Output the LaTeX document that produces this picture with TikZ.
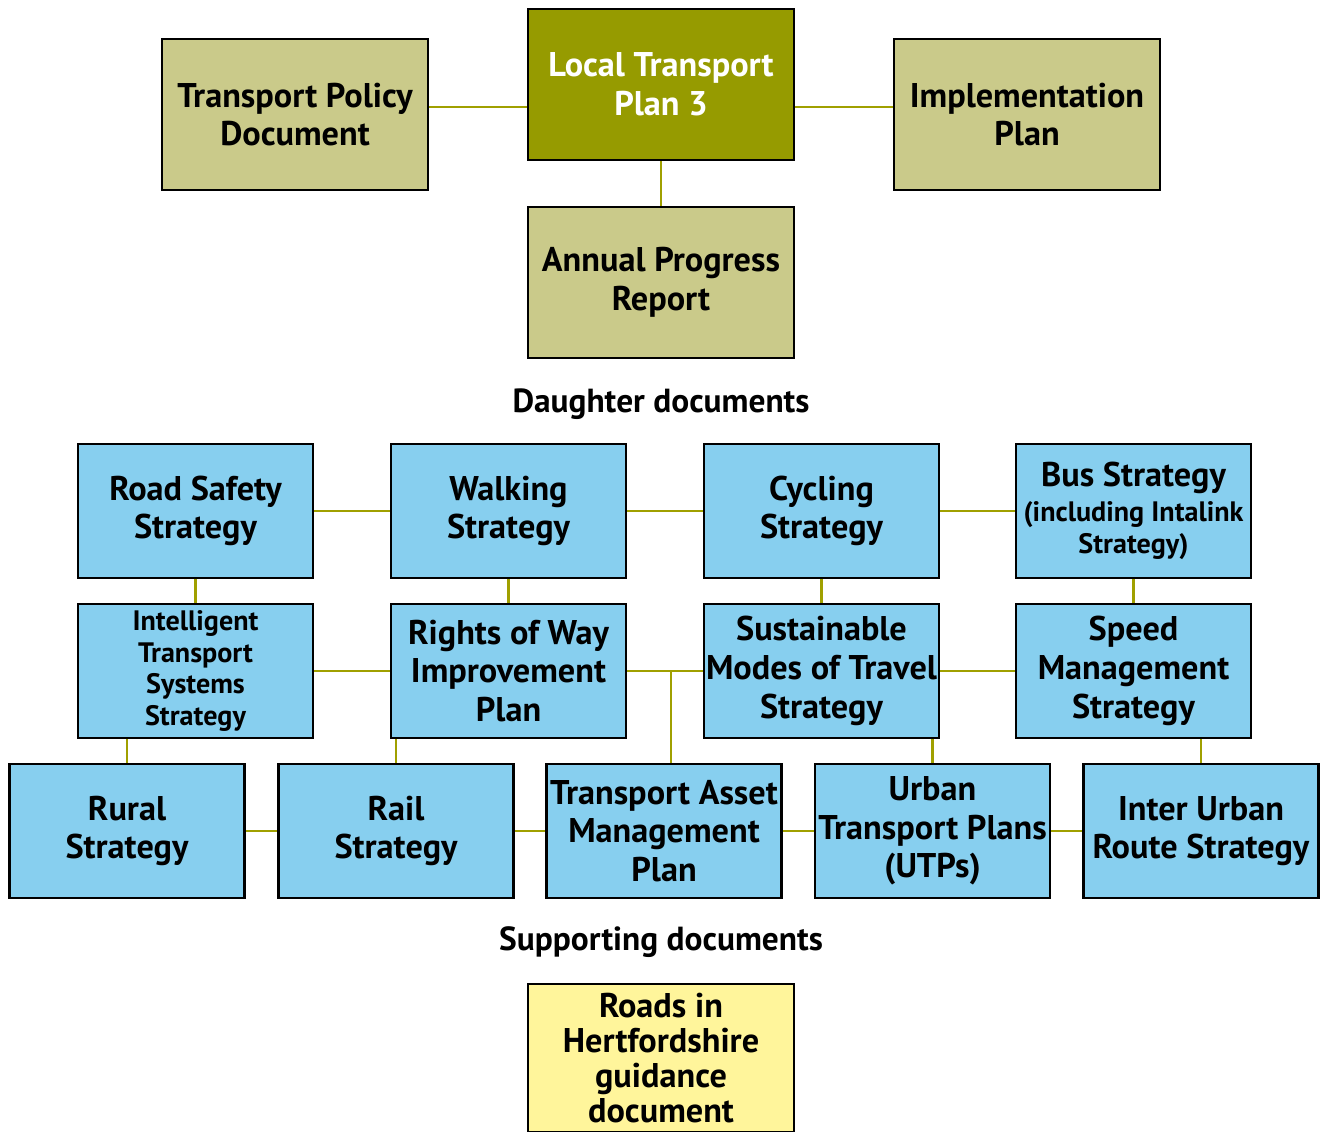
\documentclass[tikz,border=0pt]{standalone}
\usepackage{fontspec}
\setmainfont{PT Sans}
\usetikzlibrary{positioning,calc}

\definecolor{ltpolive}{RGB}{150,155,0}
\definecolor{paleolive}{RGB}{202,202,138}
\definecolor{skyblue}{RGB}{135,207,239}
\definecolor{paleyellow}{RGB}{255,245,155}
\definecolor{linkolive}{RGB}{160,160,0}

\tikzset{
  doc/.style={draw=black, line width=1.6pt, align=center, inner xsep=0pt, inner ysep=2pt,
    font=\bfseries\fontsize{19.5}{22}\selectfont},
  topdoc/.style={doc, fill=paleolive, minimum width=5.32cm, minimum height=3.02cm},
  daughter/.style={doc, fill=skyblue, minimum width=4.7cm, minimum height=2.68cm},
  link/.style={draw=linkolive, line width=1.5pt},
  heading/.style={font=\bfseries\fontsize{19}{21}\selectfont}
}
\newcommand{\subtext}{\fontsize{16}{18}\selectfont}

\begin{document}
\begin{tikzpicture}

\useasboundingbox (0,0) rectangle (26.5,-22.62);

% Main plan and its companions
\node[topdoc, fill=ltpolive, text=white] (ltp) at (13.22,-1.69) {Local Transport\\Plan 3};
\node[topdoc] (tpd) at (5.9,-2.29) {Transport Policy\\Document};
\node[topdoc] (ip) at (20.54,-2.29) {Implementation\\Plan};
\node[topdoc] (apr) at (13.22,-5.65) {Annual Progress\\Report};

\draw[link] ([yshift=0.15cm]tpd.east) -- ([yshift=0.15cm]tpd.east -| ltp.west);
\draw[link] ([yshift=0.15cm]ip.west) -- ([yshift=0.15cm]ip.west -| ltp.east);
\draw[link] (ltp.south) -- (apr.north);

\node[heading] (dtitle) at (13.22,-8.08) {Daughter documents};

% Daughter documents, first row
\node[daughter] (rs) at (3.91,-10.22) {Road Safety\\Strategy};
\node[daughter] (walk) at (10.17,-10.22) {Walking\\Strategy};
\node[daughter] (cyc) at (16.43,-10.22) {Cycling\\Strategy};
\node[daughter, font=\bfseries\subtext] (bus) at (22.67,-10.22)
  {{\fontsize{19.5}{21.5}\selectfont Bus Strategy}\\[2pt](including Intalink\\Strategy)};

% second row
\node[daughter, font=\bfseries\subtext] (its) at (3.91,-13.42)
  {Intelligent\\Transport\\Systems\\Strategy};
\node[daughter] (row) at (10.17,-13.42) {Rights of Way\\Improvement\\Plan};
\node[daughter] (smt) at (16.43,-13.42) {Sustainable\\Modes of Travel\\Strategy};
\node[daughter] (speed) at (22.67,-13.42) {Speed\\Management\\Strategy};

% third row
\node[daughter] (rural) at (2.54,-16.62) {Rural\\Strategy};
\node[daughter] (rail) at (7.92,-16.62) {Rail\\Strategy};
\node[daughter] (tamp) at (13.28,-16.62) {Transport Asset\\Management\\Plan};
\node[daughter] (utp) at (18.65,-16.62) {Urban\\Transport Plans\\(UTPs)};
\node[daughter] (iur) at (24.02,-16.62) {Inter Urban\\Route Strategy};

% Links along the rows
\foreach \a/\b in {rs/walk, walk/cyc, cyc/bus, its/row, row/smt, smt/speed,
                   rural/rail, rail/tamp, tamp/utp, utp/iur}
  \draw[link] (\a) -- (\b);

% Links down the rows
\foreach \a/\b in {rs/its, walk/row, cyc/smt, bus/speed}
  \draw[link] (\a) -- (\b);
\draw[link] (rural.north) -- (rural.north |- its.south);
\draw[link] (rail.north) -- (rail.north |- row.south);
\draw[link] (utp.north) -- (utp.north |- smt.south);
\draw[link] (iur.north) -- (iur.north |- speed.south);
\coordinate (tee) at ($(row.east)!0.58!(smt.west)$);
\draw[link] (tee) -- (tee |- tamp.north);

\node[heading] (stitle) at (13.22,-18.84) {Supporting documents};

% Supporting document (runs off the page)
\node[topdoc, fill=paleyellow, minimum height=2.96cm, font=\bfseries\fontsize{19.5}{19.8}\selectfont]
  (rih) at (13.22,-21.16) {Roads in\\Hertfordshire\\guidance\\document};

\end{tikzpicture}
\end{document}
